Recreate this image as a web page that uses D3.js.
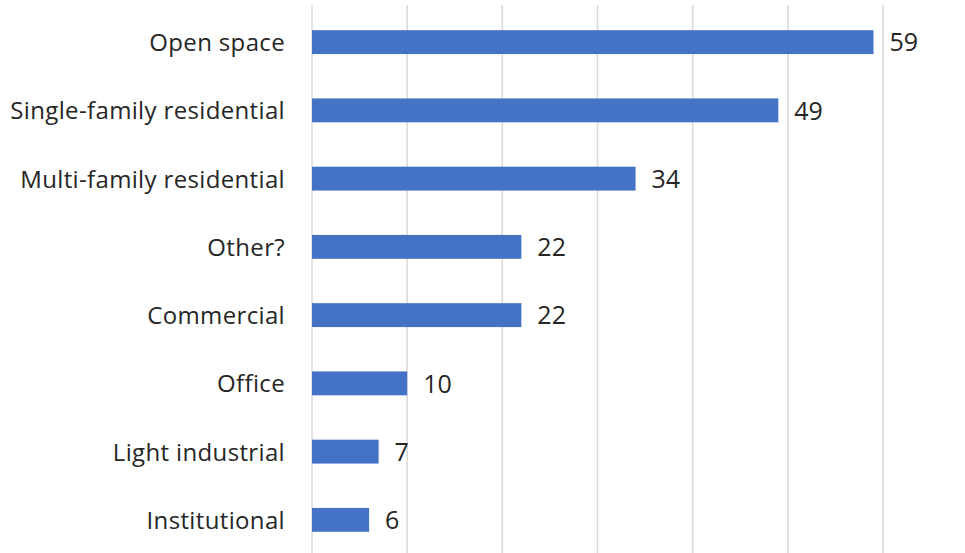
<!DOCTYPE html>
<html>
<head>
<meta charset="utf-8">
<script src="https://cdn.jsdelivr.net/npm/d3@7"></script>
<style>
  html, body { margin: 0; padding: 0; background: #fff; }
  svg { display: block; }
</style>
</head>
<body>
<svg id="chart" width="965" height="553"></svg>
<script>
const categories = ["Open space", "Single-family residential", "Multi-family residential", "Other?", "Commercial", "Office", "Light industrial", "Institutional"];
const values = [59, 49, 34, 22, 22, 10, 7, 6];
const gridTicks = [0, 10, 20, 30, 40, 50, 60];

const svg = d3.select("#chart");
const W = 965, H = 553;
const margin = { left: 312, right: 82, top: 8, bottom: 0 };

const x = d3.scaleLinear().domain([0, 60]).range([margin.left, 883]);
const y = d3.scaleBand().domain(categories).range([margin.top, 554]).paddingInner(0.65).paddingOuter(0.325);

const fontFamily = "'Open Sans', 'Noto Sans', sans-serif";
const textColor = "#262626";

// gridlines
svg.append("g").selectAll("line").data(gridTicks).join("line")
  .attr("x1", d => x(d)).attr("x2", d => x(d))
  .attr("y1", 5).attr("y2", H)
  .attr("stroke", "#d9d9d9").attr("stroke-width", 1.5);

// bars
svg.append("g").selectAll("rect").data(categories).join("rect")
  .attr("x", x(0))
  .attr("y", d => y(d))
  .attr("width", (d, i) => x(values[i]) - x(0))
  .attr("height", y.bandwidth())
  .attr("fill", "#4472C4");

// category labels
svg.append("g").selectAll("text").data(categories).join("text")
  .attr("x", x(0) - 27)
  .attr("y", d => y(d) + y.bandwidth() / 2)
  .attr("dy", "0.37em")
  .attr("text-anchor", "end")
  .attr("font-family", fontFamily)
  .attr("font-size", 24)
  .attr("letter-spacing", "0.35px")
  .attr("fill", textColor)
  .text(d => d);

// value labels
svg.append("g").selectAll("text").data(categories).join("text")
  .attr("x", (d, i) => x(values[i]) + 16)
  .attr("y", d => y(d) + y.bandwidth() / 2)
  .attr("dy", "0.37em")
  .attr("text-anchor", "start")
  .attr("font-family", fontFamily)
  .attr("font-size", 25)
  .attr("fill", textColor)
  .text((d, i) => values[i]);
</script>
</body>
</html>
